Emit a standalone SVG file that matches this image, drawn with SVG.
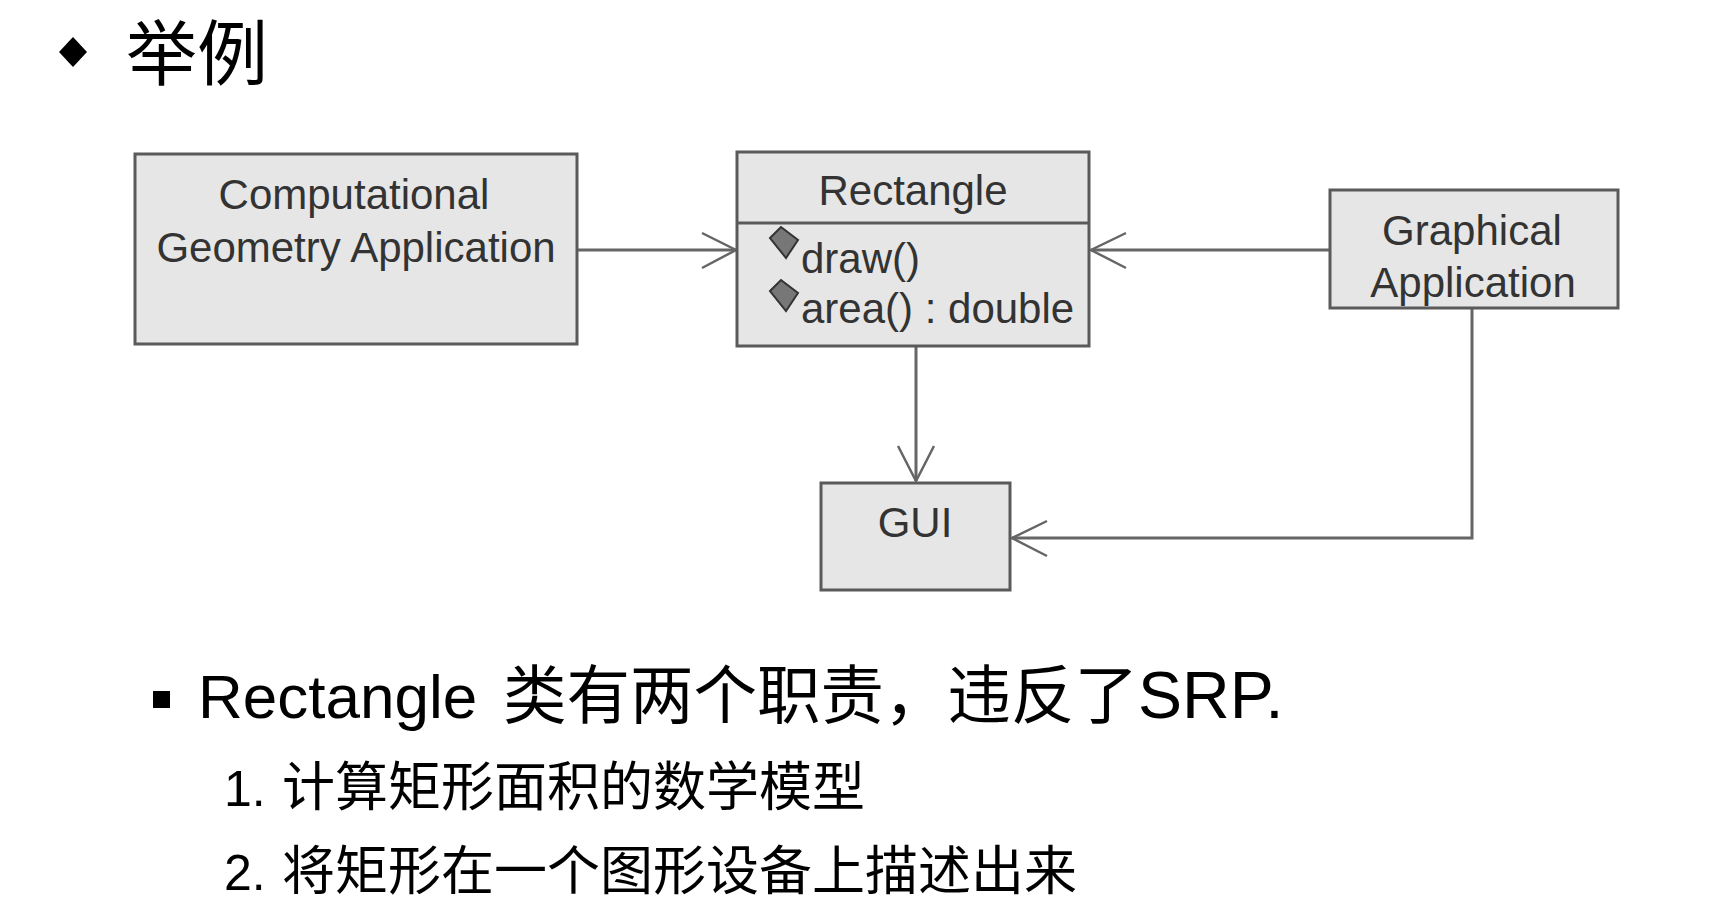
<svg xmlns="http://www.w3.org/2000/svg" width="1714" height="906" viewBox="0 0 1714 906">
<style>
.box{fill:#e6e6e6;stroke:#5a5a5a;stroke-width:3}
.nt{font-family:"Liberation Sans",Arial,sans-serif;font-size:42px;fill:#333;text-anchor:middle}
.mt{font-family:"Liberation Sans",Arial,sans-serif;font-size:42px;fill:#333}
.con{fill:none;stroke:#666;stroke-width:3}
.ah{fill:none;stroke:#666;stroke-width:2.5}
.txt{font-family:"Liberation Sans",Arial,"Noto Sans CJK SC",sans-serif;fill:#000}
.cjk{font-family:"Noto Sans CJK SC",sans-serif;fill:#000}
.dia{fill:#777;stroke:#333;stroke-width:2}
</style>
<rect width="1714" height="906" fill="#fff"/>
<g id="title">
<polygon points="73,37 87,52 73,67 59,52" fill="#000"/>
<text x="126" y="79" class="cjk" font-size="71">举例</text>
</g>
<g id="connectors">
<line class="con" x1="577" y1="250" x2="736" y2="250"/>
<polyline class="ah" points="702,233 736,250 702,268"/>
<line class="con" x1="1330" y1="250" x2="1091" y2="250"/>
<polyline class="ah" points="1126,233 1091,250 1126,268"/>
<line class="con" x1="916" y1="347" x2="916" y2="481"/>
<polyline class="ah" points="898,446 916,481 934,446"/>
<polyline class="con" points="1472,309 1472,538 1012,538"/>
<polyline class="ah" points="1047,521 1012,538 1047,556"/>
</g>
<g id="computational">
<rect class="box" x="135" y="154" width="442" height="190"/>
<text class="nt" x="354" y="209">Computational</text>
<text class="nt" x="356" y="262">Geometry Application</text>
</g>
<g id="rectangle">
<rect class="box" x="737" y="152" width="352" height="194"/>
<line x1="737" y1="223" x2="1089" y2="223" stroke="#5a5a5a" stroke-width="3"/>
<text class="nt" x="913" y="205">Rectangle</text>
<polygon class="dia" points="770,238 781,227 798,240 786,258"/>
<text class="mt" x="801" y="273">draw()</text>
<polygon class="dia" points="770,291 781,280 798,293 786,311"/>
<text class="mt" x="801" y="323">area() : double</text>
</g>
<g id="graphical">
<rect class="box" x="1330" y="190" width="288" height="118"/>
<text class="nt" x="1472" y="245">Graphical</text>
<text class="nt" x="1473" y="297">Application</text>
</g>
<g id="gui">
<rect class="box" x="821" y="483" width="189" height="107"/>
<text class="nt" x="915" y="537">GUI</text>
</g>
<g id="notes">
<rect x="153" y="691" width="17" height="17" fill="#000"/>
<text class="txt" x="198" y="718" font-size="62">Rectangle <tspan class="cjk" x="503" font-size="63.5">类有两个职责，违反了</tspan><tspan font-family="Liberation Sans,Arial,sans-serif" font-size="66">SRP.</tspan></text>
<text class="txt" x="224" y="806" font-size="50">1. <tspan class="cjk" x="282" font-size="53">计算矩形面积的数学模型</tspan></text>
<text class="txt" x="224" y="890" font-size="50">2. <tspan class="cjk" x="282" font-size="53">将矩形在一个图形设备上描述出来</tspan></text>
</g>
</svg>
